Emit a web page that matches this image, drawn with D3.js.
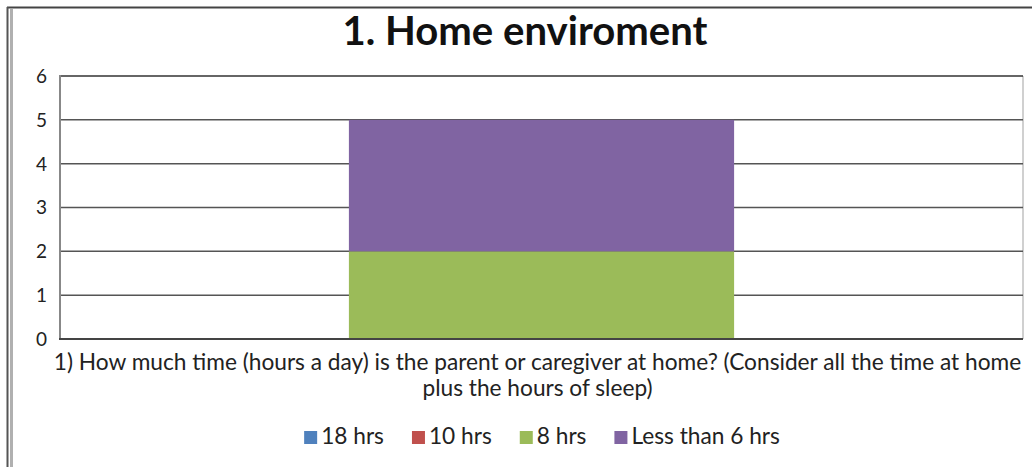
<!DOCTYPE html>
<html>
<head>
<meta charset="utf-8">
<script src="https://cdn.jsdelivr.net/npm/d3@7"></script>
<style>
  body { margin: 0; background: #fff; }
  svg { display: block; font-family: Lato, "Open Sans", sans-serif; }
</style>
</head>
<body>
<div id="chart"></div>
<script>
const categories = ["1) How much time (hours a day) is the parent or caregiver at home? (Consider all the time at home plus the hours of sleep)"];
const categoryLines = [["1) How much time (hours a day) is the parent or caregiver at home? (Consider all the time at home", "plus the hours of sleep)"]];
const seriesNames = ["18 hrs", "10 hrs", "8 hrs", "Less than 6 hrs"];
const seriesColors = ["#4f81bd", "#c0504d", "#9bbb59", "#8064a2"];
const seriesValues = [[0], [0], [2], [3]];
const yTicks = [0, 1, 2, 3, 4, 5, 6];
const title = "1. Home enviroment";

const width = 1032, height = 467;
const margin = { left: 60, right: 9, top: 76, bottom: 128 };

const svg = d3.select("#chart").append("svg")
    .attr("width", width).attr("height", height);

// scale a text's font size so it spans the wanted width
function fitWidth(sel, target) {
    const w = sel.node().getComputedTextLength();
    const fs = parseFloat(sel.attr("font-size"));
    sel.attr("font-size", (fs * target / w).toFixed(2));
}

// outer frame (chart area border, cropped at right/bottom)
svg.append("line").attr("x1", 7).attr("x2", width).attr("y1", 7.5).attr("y2", 7.5)
    .attr("stroke", "#444").attr("stroke-width", 2);
svg.append("line").attr("x1", 7.5).attr("x2", 7.5).attr("y1", 7).attr("y2", height)
    .attr("stroke", "#555").attr("stroke-width", 2);
svg.append("rect").attr("x", 10).attr("y", 9).attr("width", 3).attr("height", height)
    .attr("fill", "#b0b0b0");

const x = d3.scaleBand().domain(categories)
    .range([margin.left, width - margin.right]).paddingInner(0).paddingOuter(0);
const y = d3.scaleLinear().domain([0, 6]).range([height - margin.bottom, margin.top]);

// stacked data
const table = categories.map((c, i) => {
    const row = { cat: c };
    seriesNames.forEach((s, j) => row[s] = seriesValues[j][i]);
    return row;
});
const stacked = d3.stack().keys(seriesNames)(table);

// right border of plot
svg.append("line").attr("x1", width - margin.right).attr("x2", width - margin.right)
    .attr("y1", y(6)).attr("y2", y(0)).attr("stroke", "#d0d0d0").attr("stroke-width", 2);

// gridlines
svg.append("g").selectAll("line").data(yTicks.filter(d => d > 0)).join("line")
    .attr("x1", margin.left).attr("x2", width - margin.right)
    .attr("y1", d => y(d)).attr("y2", d => y(d))
    .attr("stroke", d => d === 6 ? "#333" : "#555").attr("stroke-width", 1.5);

// bars (Excel-like gap width 150%)
const gap = 1.5;
const barW = x.bandwidth() / (1 + gap);
svg.append("g").selectAll("g").data(stacked).join("g")
    .attr("fill", (d, i) => seriesColors[i])
    .selectAll("rect").data(d => d).join("rect")
    .attr("x", d => x(d.data.cat) + (x.bandwidth() - barW) / 2)
    .attr("width", barW)
    .attr("y", d => y(d[1]))
    .attr("height", d => y(d[0]) - y(d[1]));

// y axis line + tick labels
svg.append("line").attr("x1", margin.left).attr("x2", margin.left)
    .attr("y1", y(6) - 1).attr("y2", y(0)).attr("stroke", "#888").attr("stroke-width", 2);
svg.append("g").selectAll("text").data(yTicks).join("text")
    .attr("x", margin.left - 13).attr("y", d => y(d)).attr("dy", "0.36em")
    .attr("text-anchor", "end").attr("font-size", 19).attr("fill", "#222")
    .text(d3.format("d"));

// x axis line
svg.append("line").attr("x1", margin.left - 1).attr("x2", width - margin.right)
    .attr("y1", y(0)).attr("y2", y(0)).attr("stroke", "#444").attr("stroke-width", 2);

// category label
const cx = x(categories[0]) + x.bandwidth() / 2 - 4;
categoryLines[0].forEach((line, i) => {
    svg.append("text").attr("class", "cat").attr("text-anchor", "middle")
        .attr("x", cx).attr("y", 370 + i * 26)
        .attr("font-size", 18).attr("fill", "#222").text(line);
});
const catTexts = svg.selectAll("text.cat");
const first = d3.select(catTexts.nodes()[0]);
fitWidth(first, 968);
catTexts.attr("font-size", first.attr("font-size"));

// title
const titleText = svg.append("text").attr("x", 525).attr("y", 45).attr("text-anchor", "middle")
    .attr("font-size", 30).attr("font-weight", "bold").attr("fill", "#111").text(title);
fitWidth(titleText, 365);

// legend
const legendFs = parseFloat(first.attr("font-size"));
const legend = svg.append("g").attr("font-size", legendFs).attr("fill", "#222");
const items = legend.selectAll("g").data(seriesNames).join("g");
items.append("rect").attr("width", 13).attr("height", 13).attr("y", -13)
    .attr("fill", (d, i) => seriesColors[i]);
items.append("text").attr("x", 17).attr("y", 0).text(d => d);
const itemGap = 28;
let cursor = 0;
const offsets = [];
items.each(function () {
    offsets.push(cursor);
    cursor += 17 + this.querySelector("text").getComputedTextLength() + itemGap;
});
cursor -= itemGap;
const legendStart = 542 - cursor / 2;
items.attr("transform", (d, i) => `translate(${legendStart + offsets[i]},444)`);
</script>
</body>
</html>
